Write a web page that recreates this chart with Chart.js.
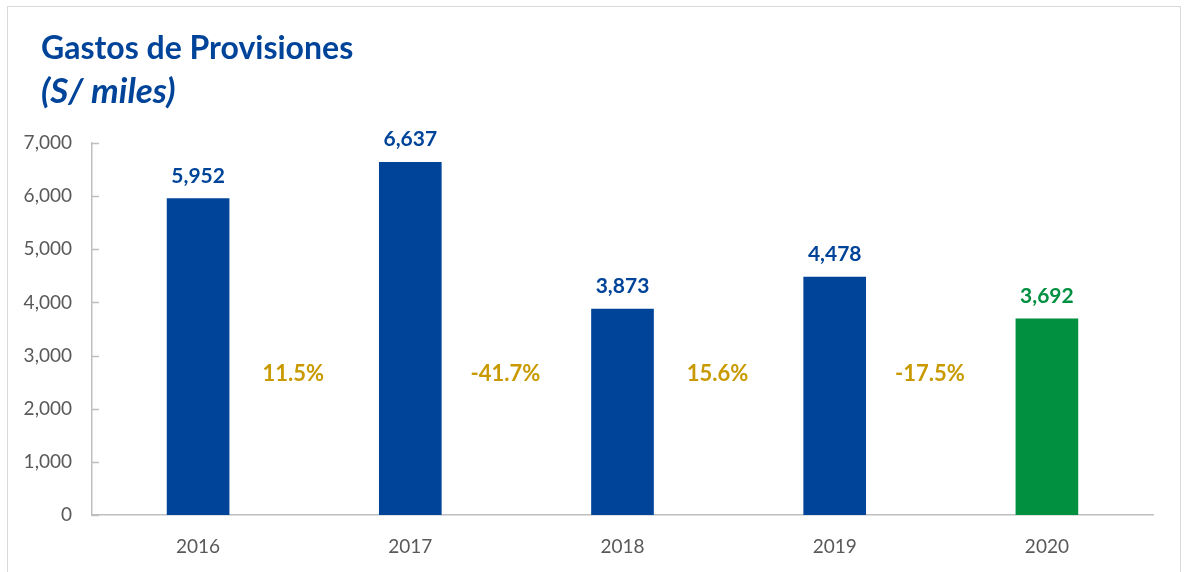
<!DOCTYPE html>
<html>
<head>
<meta charset="utf-8">
<script src="https://cdn.jsdelivr.net/npm/chart.js@4/dist/chart.umd.min.js"></script>
<style>
  html, body { margin: 0; padding: 0; background: #fff; overflow: hidden; }
  #marco { position: absolute; left: 7px; top: 6px; width: 1172px; height: 600px; border: 1px solid #d9d9d9; }
  #lienzo { position: absolute; left: 0; top: 0; width: 1187px; height: 572px; }
</style>
</head>
<body>
<div id="marco"></div>
<div id="lienzo"><canvas id="grafico"></canvas></div>
<script>
/* ====== Gastos de Provisiones (S/ miles) ====== */
const anios = ['2016', '2017', '2018', '2019', '2020'];
const gastos = [5952, 6637, 3873, 4478, 3692];
const variaciones = ['11.5%', '-41.7%', '15.6%', '-17.5%'];
const marcasY = [0, 1000, 2000, 3000, 4000, 5000, 6000, 7000];

const AZUL = '#00449a';
const VERDE = '#009040';
const DORADO = '#c99a00';
const GRIS_EJE = '#bfbfbf';
const FUENTE = 'Lato, "Open Sans", sans-serif';

const coloresBarras = anios.map((a, i) => i === anios.length - 1 ? VERDE : AZUL);
const fmt = n => n.toLocaleString('en-US');

// Titulo, marcas del eje, etiquetas de valor y variaciones
const extras = {
  id: 'extras',
  afterDraw(chart) {
    const { ctx, chartArea, scales } = chart;
    const x = scales.x, y = scales.y;
    ctx.save();

    ctx.fillStyle = AZUL;
    ctx.textAlign = 'left';
    ctx.textBaseline = 'alphabetic';
    ctx.font = `bold 32px ${FUENTE}`;
    ctx.fillText('Gastos de Provisiones', 41, 59);
    ctx.font = `italic bold 35px ${FUENTE}`;
    ctx.fillText('(S/ miles)', 41, 103);

    // marcas cortas hacia dentro del eje Y
    ctx.strokeStyle = GRIS_EJE;
    ctx.lineWidth = 1.5;
    marcasY.forEach(v => {
      const py = Math.round(y.getPixelForValue(v)) + 0.5;
      ctx.beginPath();
      ctx.moveTo(chartArea.left, py);
      ctx.lineTo(chartArea.left + 7, py);
      ctx.stroke();
    });

    // valores sobre las barras
    const meta = chart.getDatasetMeta(0);
    ctx.font = `bold 21px ${FUENTE}`;
    ctx.textAlign = 'center';
    meta.data.forEach((bar, i) => {
      ctx.fillStyle = coloresBarras[i];
      ctx.fillText(fmt(gastos[i]), bar.x, bar.y - 16);
    });

    // variacion anual entre barras
    ctx.fillStyle = DORADO;
    ctx.textBaseline = 'middle';
    ctx.font = `bold 22px ${FUENTE}`;
    const yVar = y.getPixelForValue(2650);
    variaciones.forEach((t, i) => {
      const px = (x.getPixelForValue(i) + x.getPixelForValue(i + 1)) / 2 - 11;
      ctx.fillText(t, px, yVar);
    });
    ctx.restore();
  }
};

new Chart(document.getElementById('grafico'), {
  type: 'bar',
  data: {
    labels: anios,
    datasets: [{
      data: gastos,
      backgroundColor: coloresBarras,
      barThickness: 62,
      borderWidth: 0
    }]
  },
  options: {
    responsive: true,
    maintainAspectRatio: false,
    animation: false,
    layout: { padding: { top: 143, right: 34, left: 0, bottom: 0 } },
    plugins: { legend: { display: false }, tooltip: { enabled: false } },
    scales: {
      x: {
        grid: { display: false },
        border: { color: GRIS_EJE, width: 1.5 },
        ticks: { color: '#595959', font: { family: FUENTE, size: 19 }, padding: 12 },
        afterFit: s => { s.height = 57; }
      },
      y: {
        min: 0,
        max: 7000,
        grid: { display: false },
        border: { color: GRIS_EJE, width: 1.5 },
        ticks: {
          stepSize: 1000,
          color: '#595959',
          font: { family: FUENTE, size: 19 },
          padding: 12,
          callback: v => fmt(v)
        },
        afterFit: s => { s.width = 92; }
      }
    }
  },
  plugins: [extras]
});
</script>
</body>
</html>
